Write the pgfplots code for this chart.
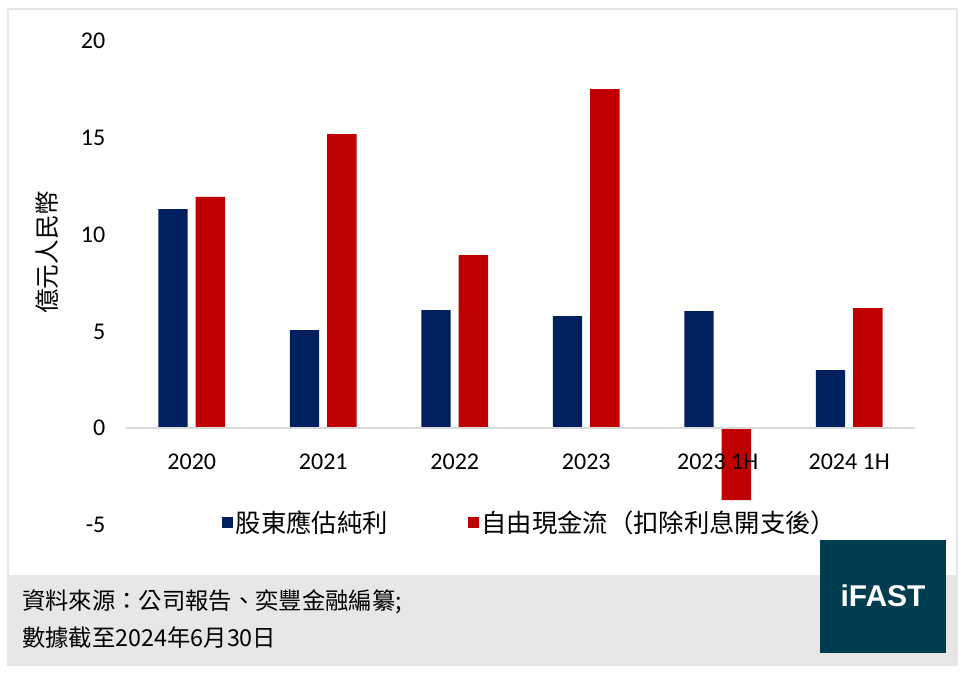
\documentclass[border=0pt]{standalone}
\usepackage{pgfplots}
\pgfplotsset{compat=1.18}
\usepackage{pgfplotstable}
\usepackage{fontspec}
\setmainfont{Carlito}
\newfontfamily\cjk{Noto Sans CJK TC}
\newfontfamily\logofont{Liberation Sans}
\definecolor{navy}{HTML}{002060}
\definecolor{xred}{HTML}{C00000}
\definecolor{zline}{HTML}{D9D9D9}
\definecolor{foot}{HTML}{E7E7E7}
\definecolor{logo}{HTML}{003D4F}
\definecolor{frame}{HTML}{E6E6E6}

\pgfplotstableread{
x a b
0 11.32 11.95
1 5.06 15.19
2 6.10 8.94
3 5.79 17.52
4 6.05 -3.72
5 3.00 6.20
}\datatable

\begin{document}
\begin{tikzpicture}
\path[use as bounding box, fill=white] (0,0) rectangle (723pt,504.75pt);
\draw[frame, line width=1.5pt] (6pt,6pt) rectangle (717.75pt,498pt);
\fill[foot] (6pt,6pt) rectangle (717.75pt,73.5pt);
\begin{axis}[
 at={(94.5pt,111pt)}, anchor=south west,
 scale only axis, width=591.75pt, height=363pt,
 xmin=-0.5, xmax=5.5, ymin=-5, ymax=20,
 ytick={-5,0,5,10,15,20},
 xtick={0,1,2,3,4,5},
 xticklabels={2020,2021,2022,2023,2023 1H,2024 1H},
 axis on top,
 axis line style={draw=none},
 major tick length=0pt,
 tick style={draw=none},
 ybar=6pt, bar width=22.1pt,
 /pgf/number format/assume math mode=true,
 ticklabel style={font=\fontsize{18}{20}\selectfont, text=black},
 xticklabel style={anchor=center, yshift=47.25pt},
 yticklabel style={xshift=-12pt},
 extra y ticks={0}, extra y tick labels={},
 extra y tick style={grid=major, grid style={zline, line width=1.5pt}},
 ylabel={\cjk 億元人民幣},
 ylabel style={at={(axis description cs:-0.1001,0.564)}, anchor=center, font=\fontsize{18.5}{20}\selectfont},
 legend columns=2,
 legend style={at={(axis cs:0.23,-4.855)}, anchor=west, draw=none, fill=none, inner sep=0pt,
   font=\cjk\fontsize{19}{22}\selectfont,
   /tikz/every even column/.append style={column sep=58pt}},
 legend image code/.code={\fill[#1] (0pt,-4.1pt) rectangle (8.25pt,4.1pt);},
 clip=false,
]
\addplot[fill=navy, draw=none] table[x=x,y=a]{\datatable};
\addplot[fill=xred, draw=none] table[x=x,y=b]{\datatable};
\legend{股東應估純利, 自由現金流（扣除利息開支後）}
\end{axis}
\fill[logo] (615pt,15pt) rectangle (709.5pt,99.75pt);
\node[text=white, font=\logofont\bfseries\fontsize{22.5}{24}\selectfont] at (662.25pt,57.75pt) {iFAST};
\node[anchor=west, inner sep=0pt, font=\cjk\fontsize{17.5}{20}\selectfont] at (16.5pt,53.25pt) {資料來源：公司報告、奕豐金融編纂;};
\node[anchor=west, inner sep=0pt, font=\cjk\fontsize{17.5}{20}\selectfont] at (16.5pt,26.25pt) {數據截至2024年6月30日};
\end{tikzpicture}
\end{document}
